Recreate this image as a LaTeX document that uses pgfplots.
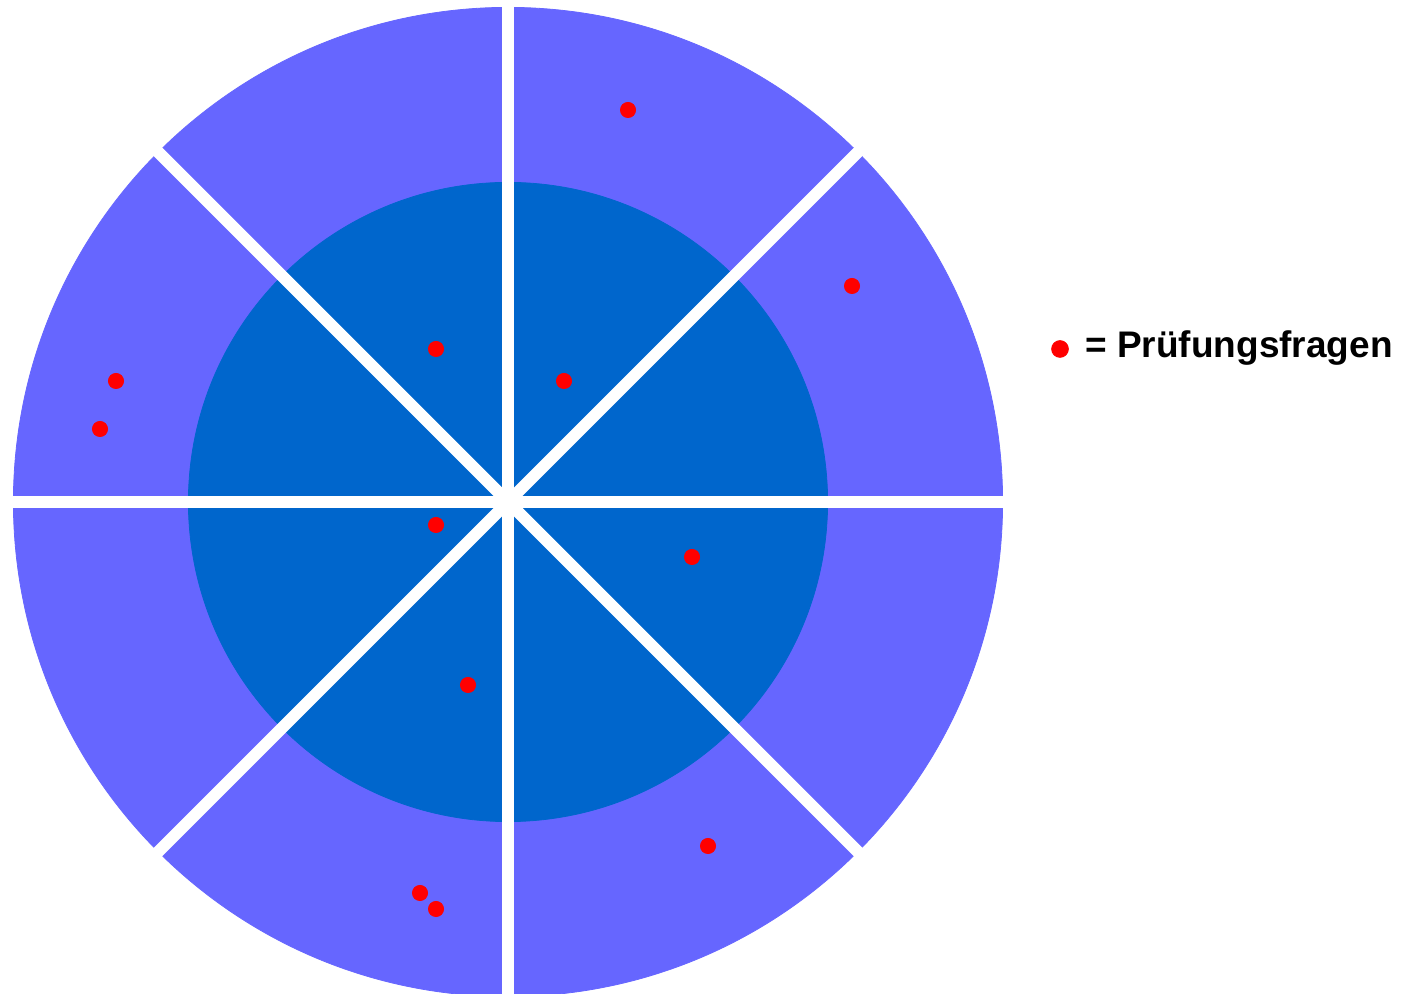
\documentclass[border=0pt]{standalone}
\usepackage{pgfplots}
\pgfplotsset{compat=1.18}
\usepackage{fontspec}
\setmainfont{Liberation Sans}
\definecolor{ringblue}{HTML}{6666FF}
\definecolor{coreblue}{HTML}{0066CC}
\begin{document}
\begin{tikzpicture}
\begin{axis}[
    at={(0,0)}, anchor=south west,
    x=0.5pt, y=0.5pt,
    xmin=0, xmax=1412, ymin=0, ymax=994,
    hide axis, clip=false, clip marker paths=true,
  ]
  % outer ring and inner disc
  \addplot[color=ringblue, only marks, mark=*, mark size=247.3pt]
    coordinates {(508,492)};
  \addplot[color=coreblue, only marks, mark=*, mark size=159.8pt]
    coordinates {(508,492)};
  % white separators
  \addplot[color=white, line width=6pt] coordinates {(508,-4) (508,990)};
  \addplot[color=white, line width=6pt] coordinates {(10,492) (1006,492)};
  \addplot[color=white, line width=6pt] coordinates {(155,139) (861,845)};
  \addplot[color=white, line width=6pt] coordinates {(155,845) (861,139)};
  % questions
  \addplot[color=red, only marks, mark=*, mark size=3.8pt]
    coordinates {
      (628,884) (852,708) (436,645) (564,613) (116,613) (100,565)
      (436,469) (692,437) (468,309) (708,148) (420,101) (436,85)
    };
  % legend
  \addplot[color=red, only marks, mark=*, mark size=4.2pt]
    coordinates {(1060,645)};
  \node[anchor=base west, inner sep=0pt, font=\fontsize{18.5pt}{22pt}\selectfont\bfseries]
    at (axis cs:1085,636) {= Prüfungsfragen};
\end{axis}
\pgfresetboundingbox
\path (0,0) rectangle (706pt,497pt);
\end{tikzpicture}
\end{document}
